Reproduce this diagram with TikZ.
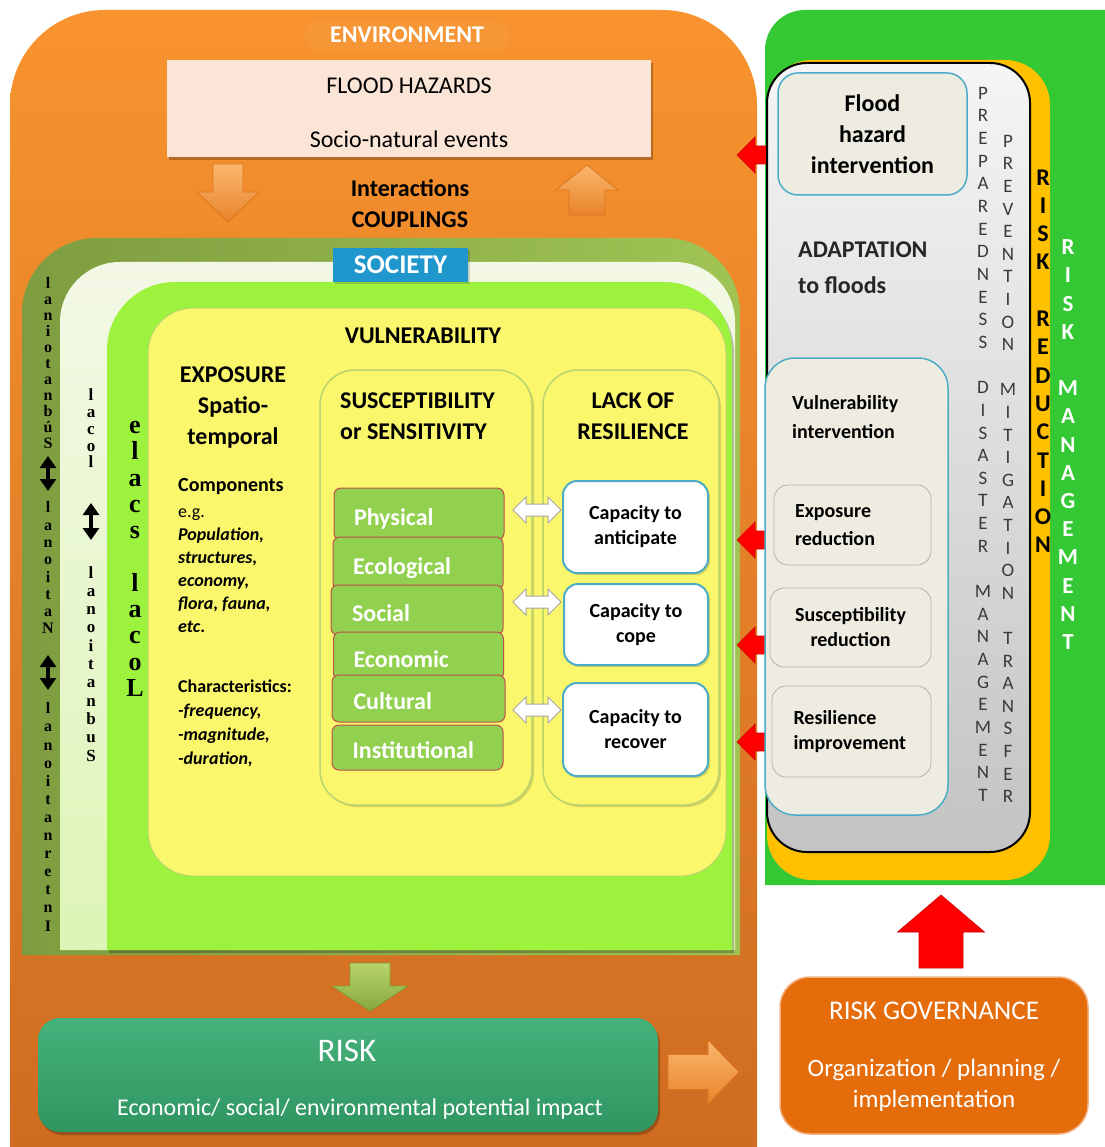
\documentclass[tikz,border=0pt]{standalone}
\usepackage{fontspec}
\setmainfont{Carlito}
\newfontfamily\tnr{Liberation Serif}
\usetikzlibrary{shadows,arrows.meta,calc}

\definecolor{envtop}{HTML}{F8932F}
\definecolor{envbot}{HTML}{CF6C21}
\definecolor{peach}{HTML}{FBE5D6}
\definecolor{arrortop}{HTML}{FBB66E}
\definecolor{arrorbot}{HTML}{E8842A}
\definecolor{arrorangedk}{HTML}{D9761F}
\definecolor{olivel}{HTML}{7E9D40}
\definecolor{oliver}{HTML}{A0C454}
\definecolor{paletop}{HTML}{F3F8E6}
\definecolor{palebot}{HTML}{DDF5B6}
\definecolor{lime}{HTML}{9CF23C}
\definecolor{yel}{HTML}{FAF76C}
\definecolor{yelborder}{HTML}{B9D46E}
\definecolor{socblue}{HTML}{1F96CC}
\definecolor{catgreen}{HTML}{92D050}
\definecolor{catborder}{HTML}{C0504D}
\definecolor{capborder}{HTML}{4BACC6}
\definecolor{rmgreen}{HTML}{34C934}
\definecolor{gold}{HTML}{FFC000}
\definecolor{graytop}{HTML}{F5F5F5}
\definecolor{graybot}{HTML}{C3C3C3}
\definecolor{beige}{HTML}{EEECE1}
\definecolor{risktop}{HTML}{46B27C}
\definecolor{riskbot}{HTML}{2F9561}
\definecolor{govorange}{HTML}{E46C0A}
\definecolor{govborder}{HTML}{F4B183}
\definecolor{arrgrtop}{HTML}{B8D46C}
\definecolor{arrgrbot}{HTML}{86A83C}
\definecolor{arrgreendk}{HTML}{7F9E3A}
\definecolor{lettergray}{HTML}{3A3A3A}

\newcommand\fs[2]{\fontsize{#1}{#2}\selectfont}
% block arrow: style, tip, angle, length, head width, shaft width, head length
\newcommand\blockarrow[7]{\path[#1,shift={(#2)},rotate=#3] (0,0) -- (-#7,#5/2) -- (-#7,#6/2) -- (-#4,#6/2) -- (-#4,-#6/2) -- (-#7,-#6/2) -- (-#7,-#5/2) -- cycle;}
% double block arrow: style, centre, length, head width, shaft width, head length
\newcommand\dblblockarrow[6]{\path[#1,shift={(#2)}] (-#3/2,0) -- (-#3/2+#6,-#4/2) -- (-#3/2+#6,-#5/2) -- (#3/2-#6,-#5/2) -- (#3/2-#6,-#4/2) -- (#3/2,0) -- (#3/2-#6,#4/2) -- (#3/2-#6,#5/2) -- (-#3/2+#6,#5/2) -- (-#3/2+#6,#4/2) -- cycle;}
% box with rounded top corners: style, x1, ytop, x2, ybottom, radius
\newcommand\toproundbox[6]{\path[#1] (#2,#5) -- (#2,#3+#6) arc[start angle=180,end angle=270,radius=#6] -- (#4-#6,#3) arc[start angle=270,end angle=360,radius=#6] -- (#4,#5) -- cycle;}

\begin{document}
\begin{tikzpicture}[x=1pt,y=-1pt,
  every node/.style={inner sep=0pt},
  shadowed/.style={drop shadow={shadow xshift=2pt,shadow yshift=-3pt,opacity=.25,fill=black}},
  lightshadow/.style={drop shadow={shadow xshift=2pt,shadow yshift=-2pt,opacity=.15,fill=black}},
  envlabel/.style={font=\bfseries\fs{24}{29},text=white,fill=envtop!80!white,fill opacity=.18,text opacity=1,rounded corners=14,inner xsep=26pt,inner ysep=7pt},
  fhbox/.style={fill=peach,shadowed},
  orangearrow/.style={top color=arrortop,bottom color=arrorbot,draw=arrorangedk,line width=.8},
  greenarrow/.style={top color=arrgrtop,bottom color=arrgrbot,draw=arrgreendk,line width=.8},
  redarrow/.style={fill=red,draw=red!80!black,line width=.6},
  whitearrow/.style={fill=white,draw=gray!70,line width=1},
  blkdbl/.style={line width=3.8,{Triangle[width=16pt,length=12pt]}-{Triangle[width=16pt,length=12pt]}},
  socbox/.style={fill=socblue,text=white,font=\bfseries\fs{27}{30},lightshadow},
  colbox/.style={draw=yelborder,line width=1.5,fill=yel,rounded corners=35,lightshadow},
  catbox/.style={draw=catborder,line width=1,fill=catgreen,rounded corners=7,text=white,font=\bfseries\fs{24}{29},align=left,text width=130,inner xsep=20pt,text height=22pt,text depth=0pt},
  capbox/.style={fill=white,draw=capborder,line width=2,rounded corners=14,font=\bfseries\fs{20}{25},align=center,lightshadow},
  intbox/.style={fill=beige,draw=capborder,line width=1.5,rounded corners=20},
  subbox/.style={fill=beige,draw=gray!60,line width=.8,rounded corners=14},
  riskbox/.style={top color=risktop,bottom color=riskbot,rounded corners=22,shadowed},
  govbox/.style={fill=govorange,draw=govborder,line width=1.5,rounded corners=30},
  vleft/.style={align=center,anchor=north},
  vright/.style={align=center,anchor=north}
]
\useasboundingbox (0,0) rectangle (1104,1147);
\fill[white] (0,0) rectangle (1104,1147);

% ---------------- right panel background
\toproundbox{fill=rmgreen}{765}{10}{1150}{885}{40}
% ---------------- environment
\toproundbox{top color=envtop,bottom color=envbot}{10}{10}{757}{1147}{95}
\node[envlabel] (env) at (407,35) {ENVIRONMENT};

\node[fhbox,minimum width=484,minimum height=97] (fhbox) at (409,108.5) {};
\node[anchor=north,align=center,font=\fs{24}{54}] (fhtext) at (409,78) {FLOOD HAZARDS\\Socio-natural events};

\coordinate (downtip) at (228,222);
\blockarrow{orangearrow}{downtip}{-90}{58}{62}{30}{30}
\coordinate (uptip) at (587,165);
\blockarrow{orangearrow}{uptip}{90}{50}{62}{36}{25}
\node[anchor=north,align=center,font=\bfseries\fs{24}{31}] (inter) at (410,179) {Interactions\\COUPLINGS};

% ---------------- society layers
\toproundbox{left color=olivel,right color=oliver}{22}{238}{740}{955}{75}
\toproundbox{top color=paletop,bottom color=palebot}{60}{262}{735}{950}{60}
\toproundbox{fill=lime,shadowed}{107}{282}{732}{950}{68}
\path[draw=yelborder,line width=1,fill=yel,rounded corners=45] (148,308) rectangle (726,876);
\node[socbox,minimum width=135,minimum height=34] (soc) at (400.5,265) {SOCIETY};

% ---------------- scale columns (left)
\node[vleft,font=\tnr\bfseries\fs{16}{16}] (sub1) at (48,277.5) {l\\a\\n\\i\\o\\t\\a\\n\\b\\ú\\S};
\node[vleft,font=\tnr\bfseries\fs{16}{17.3}] (nat1) at (48,501.5) {l\\a\\n\\o\\i\\t\\a\\N};
\node[vleft,font=\tnr\bfseries\fs{16}{18.1}] (int1) at (48,702.5) {l\\a\\n\\o\\i\\t\\a\\n\\r\\e\\t\\n\\I};
\coordinate (c1a) at (48,456); \coordinate (c1b) at (48,491);
\coordinate (c1c) at (48,655); \coordinate (c1d) at (48,690);
\draw[blkdbl] (c1a) -- (c1b);
\draw[blkdbl] (c1c) -- (c1d);
\node[vleft,font=\tnr\bfseries\fs{17}{16.75}] (loc2) at (91,389) {l\\a\\c\\o\\l};
\node[vleft,font=\tnr\bfseries\fs{17}{18.3}] (sub2) at (91,566) {l\\a\\n\\o\\i\\t\\a\\n\\b\\u\\S};
\coordinate (c2a) at (91,503); \coordinate (c2b) at (91,540);
\draw[blkdbl] (c2a) -- (c2b);
\node[vleft,font=\tnr\bfseries\fs{26}{26.3}] (ls3) at (135,421) {e\\l\\a\\c\\s\\\mbox{}\\l\\a\\c\\o\\L};

% ---------------- vulnerability
\node[font=\bfseries\fs{24}{29}] (vuln) at (423,336) {VULNERABILITY};
\node[anchor=north,align=center,font=\bfseries\fs{24}{31}] (expo) at (233,367) {EXPOSURE\\Spatio-\\temporal};
\node[anchor=north west,align=left,font=\bfseries\fs{18}{23}] (comp) at (178,478.5) {{\fs{20}{23}Components}\\[3pt]{\mdseries e.g.}\\{\itshape Population,}\\{\itshape structures,}\\{\itshape economy,}\\{\itshape flora, fauna,}\\{\itshape etc}.};
\node[anchor=north west,align=left,font=\bfseries\fs{18}{24}] (charac) at (178,680) {Characteristics:\\{\itshape -frequency,}\\{\itshape -magnitude,}\\{\itshape -duration,}};

\node[colbox,minimum width=212,minimum height=435] (suscol) at (426,587.5) {};
\node[colbox,minimum width=176,minimum height=435] (lackcol) at (631,587.5) {};
\node[anchor=north west,align=left,font=\bfseries\fs{24}{31}] (susctext) at (340,392.3) {SUSCEPTIBILITY\\or SENSITIVITY};
\node[anchor=north,align=center,font=\bfseries\fs{24}{31}] (lacktext) at (633,392.3) {LACK OF\\RESILIENCE};

\node[catbox,minimum width=168,minimum height=52] (phys) at (419,514) {Physical};
\node[catbox,minimum width=170,minimum height=53] (eco) at (418,563.5) {Ecological};
\node[catbox,minimum width=172,minimum height=50] (soci) at (417,610) {Social};
\node[catbox,minimum width=169,minimum height=48] (econ) at (418.5,656) {Economic};
\node[catbox,minimum width=173,minimum height=47] (cult) at (418.5,698.5) {Cultural};
\node[catbox,minimum width=171,minimum height=45] (inst) at (417.5,747.5) {Institutional};

\node[capbox,minimum width=145,minimum height=92] (cap1) at (635.5,527) {Capacity to\\anticipate};
\node[capbox,minimum width=144,minimum height=81] (cap2) at (636,624.5) {Capacity to\\cope};
\node[capbox,minimum width=145,minimum height=93] (cap3) at (635.5,729.5) {Capacity to\\recover};

\coordinate (aw1) at (537,510);
\coordinate (aw2) at (537,602);
\coordinate (aw3) at (537,710);
\dblblockarrow{whitearrow}{aw1}{48}{26}{12}{13}
\dblblockarrow{whitearrow}{aw2}{48}{26}{12}{13}
\dblblockarrow{whitearrow}{aw3}{48}{26}{12}{13}

% ---------------- risk
\coordinate (gtip) at (370,1011);
\blockarrow{greenarrow}{gtip}{-90}{48}{76}{40}{25}
\node[riskbox,minimum width=620,minimum height=114] (risk) at (348,1075) {};
\node[font=\fs{33}{36},text=white] (risktitle) at (347,1051) {RISK};
\node[font=\fs{24}{29},text=white] (riskimpact) at (360,1109) {Economic/ social/ environmental potential impact};
\coordinate (rtip) at (739,1072);
\blockarrow{orangearrow}{rtip}{0}{71}{64}{35}{31}

% ---------------- right panel
\coordinate (rl1) at (737,155);
\coordinate (rl2) at (737,540);
\coordinate (rl3) at (737,645);
\coordinate (rl4) at (737,742);
\blockarrow{redarrow}{rl1}{180}{38}{36}{18}{18}
\blockarrow{redarrow}{rl2}{180}{38}{36}{18}{18}
\blockarrow{redarrow}{rl3}{180}{38}{36}{18}{18}
\blockarrow{redarrow}{rl4}{180}{38}{36}{18}{18}

\path[fill=gold,rounded corners=45] (767,60) rectangle (1050,880);
\path[draw=black,line width=2,top color=graytop,bottom color=graybot,rounded corners=40] (767,63) rectangle (1030,852);

\node[intbox,align=center,font=\bfseries\fs{24}{31},minimum width=189,minimum height=122] (fhi) at (872.5,134) {Flood\\hazard\\intervention};
\node[anchor=north west,align=left,font=\bfseries\fs{24}{36},text=black!85] (adapt) at (798,241.3) {ADAPTATION\\to floods};

\node[intbox,rounded corners=30,minimum width=183,minimum height=457] (vibox) at (856.5,586.5) {};
\node[anchor=north west,align=left,font=\bfseries\fs{20}{29}] (vitext) at (792,395.5) {Vulnerability\\intervention};
\node[subbox,minimum width=157,minimum height=80,text width=115,align=left,font=\bfseries\fs{20}{28}] (exr) at (852.5,525) {Exposure\\reduction};
\node[subbox,minimum width=161,minimum height=79,align=center,font=\bfseries\fs{20}{25}] (susr) at (850.5,627.5) {Susceptibility\\reduction};
\node[subbox,minimum width=159,minimum height=91,text width=116,align=left,font=\bfseries\fs{20}{25}] (resi) at (851.5,731.5) {Resilience\\improvement};

\node[vright,font=\fs{19}{22.65},text=lettergray] (prep) at (983,86.9) {P\\R\\E\\P\\A\\R\\E\\D\\N\\E\\S\\S\\\mbox{}\\D\\I\\S\\A\\S\\T\\E\\R\\\mbox{}\\M\\A\\N\\A\\G\\E\\M\\E\\N\\T};
\node[vright,font=\fs{19}{22.6},text=lettergray] (prev) at (1008,134.9) {P\\R\\E\\V\\E\\N\\T\\I\\O\\N\\\mbox{}\\M\\I\\T\\I\\G\\A\\T\\I\\O\\N\\\mbox{}\\T\\R\\A\\N\\S\\F\\E\\R};
\node[vright,font=\bfseries\fs{24}{28.3}] (rr) at (1043,169.3) {R\\I\\S\\K\\\mbox{}\\R\\E\\D\\U\\C\\T\\I\\O\\N};
\node[vright,font=\bfseries\fs{23}{28.2},text=white] (rm) at (1068,239.6) {R\\I\\S\\K\\\mbox{}\\M\\A\\N\\A\\G\\E\\M\\E\\N\\T};

% ---------------- governance
\coordinate (rup) at (941,895);
\blockarrow{redarrow}{rup}{90}{73}{87}{44}{37}
\node[govbox,minimum width=308,minimum height=157] (gov) at (934,1055.5) {};
\node[font=\fs{27}{31},text=white] (govtitle) at (934,1011) {RISK GOVERNANCE};
\node[anchor=north,align=center,font=\fs{25}{31},text=white] (govtext) at (934,1059) {Organization / planning /\\implementation};
\end{tikzpicture}
\end{document}
